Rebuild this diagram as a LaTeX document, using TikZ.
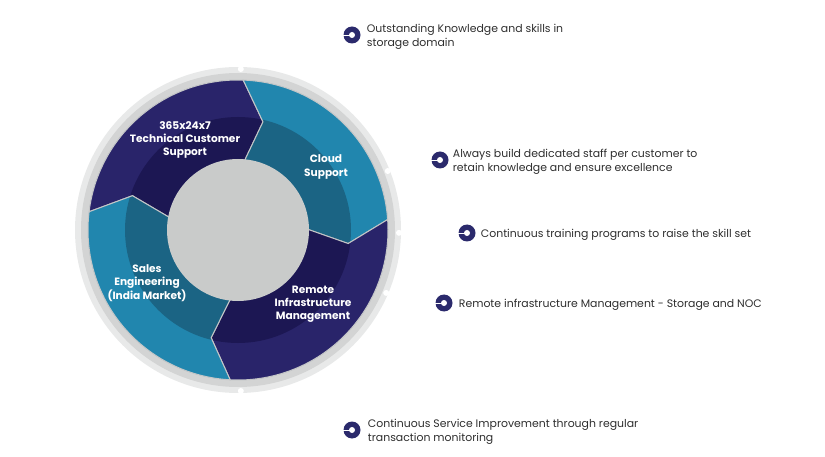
\documentclass[tikz,border=0pt]{standalone}
\usepackage{fontspec}
\setmainfont{Poppins}
\usetikzlibrary{positioning}
\definecolor{navyout}{HTML}{29246A}
\definecolor{navyin}{HTML}{1C1753}
\definecolor{tealout}{HTML}{2186AE}
\definecolor{tealin}{HTML}{1B6484}
\definecolor{hubgray}{HTML}{C9CBCA}
\definecolor{ringlight}{HTML}{E8E9E9}
\definecolor{ringdark}{HTML}{D3D4D4}
\definecolor{sepgray}{HTML}{C4C6C7}
\definecolor{bodytext}{HTML}{2E2E2E}
\definecolor{dotnavy}{HTML}{2B2A6C}
\newcommand{\segshape}[2]{({#1}:150) arc[start angle=#1, end angle=#2, radius=150]
  -- ({#2-11}:111) -- ({#2}:60) arc[start angle=#2, end angle=#1, radius=60]
  -- ({#1-11}:111) -- cycle}
\tikzset{
  bulletdot/.style={circle,fill=dotnavy,minimum size=17pt,inner sep=0pt},
  pointtext/.style={text=bodytext,font=\fontsize{10.9}{13.8}\selectfont,align=left,inner sep=0pt},
  seglabel/.style={text=white,font=\bfseries\fontsize{10.6}{13.2}\selectfont,align=center,inner sep=0pt}
}
\begin{document}
\begin{tikzpicture}[x=1pt,y=-1pt]
  \useasboundingbox (0,0) rectangle (825,457);
  % the wheel
  \begin{scope}[shift={(238,230)},yscale=-1]
    \fill[ringlight] (0,0) circle (163);
    \fill[ringdark] (0,0) circle (157);
    \foreach \a/\b/\outer/\inner in {173/88/navyout/navyin, 88/4/tealout/tealin,
        4/-93/navyout/navyin, 267/173/tealout/tealin}{
      \begin{scope}
        \clip \segshape{\a}{\b};
        \fill[\outer] (0,0) circle (160);
        \fill[\inner] (0,0) circle (113);
      \end{scope}
      \draw[sepgray,line width=1pt,line join=miter] \segshape{\a}{\b};
    }
    \fill[hubgray] (0,0) circle (71);
    \foreach \t in {89,21.5,-1,-23,-89}
      \fill[white] (\t:161) circle (3);
  \end{scope}

  \node[seglabel] (tcs) at (185,140) {365x24x7\\Technical Customer\\Support};
  \node[seglabel] (cloud) at (326,167) {Cloud\\Support};
  \node[seglabel] (sales) at (147,283) {Sales\\Engineering\\(India Market)};
  \node[seglabel] (rim) at (313,304) {Remote\\Infrastructure\\Management};

  % the points
  \node[bulletdot] (b1) at (352,35) {};
  \node[pointtext,right=6pt of b1,yshift=-1.5pt] (p1) {Outstanding Knowledge and skills in\\storage domain};
  \node[bulletdot] (b2) at (440,160) {};
  \node[pointtext,right=4pt of b2,yshift=-1.5pt] (p2) {Always build dedicated staff per customer to\\retain knowledge and ensure excellence};
  \node[bulletdot] (b3) at (467,233) {};
  \node[pointtext,right=5pt of b3,yshift=-1.5pt] (p3) {Continuous training programs to raise the skill set};
  \node[bulletdot] (b4) at (444,303) {};
  \node[pointtext,right=6pt of b4,yshift=-1.5pt] (p4) {Remote infrastructure Management - Storage and NOC};
  \node[bulletdot] (b5) at (352,430) {};
  \node[pointtext,right=7pt of b5,yshift=-1.5pt] (p5) {Continuous Service Improvement through regular\\transaction monitoring};
  \foreach \b in {b1,b2,b3,b4,b5}{
    \draw[white,line width=0.9pt] (\b.west) -- (\b.center);
    \fill[white] (\b.center) circle (3);
  }
\end{tikzpicture}
\end{document}
